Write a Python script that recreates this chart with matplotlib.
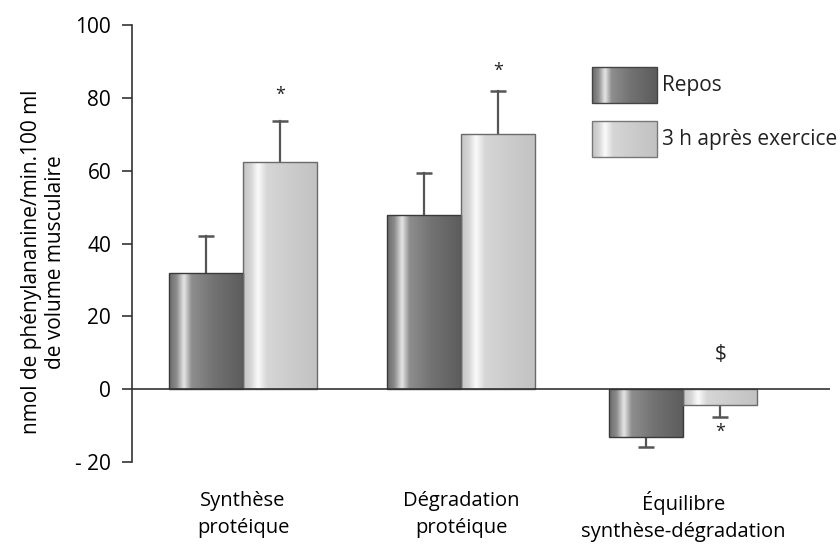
import numpy as np
import matplotlib.pyplot as plt
from matplotlib.colors import LinearSegmentedColormap
from matplotlib.patches import Rectangle

plt.rcParams['font.family'] = ['Open Sans', 'DejaVu Sans']

# Données
categories = ['Synthèse\nprotéique', 'Dégradation\nprotéique', 'Équilibre\nsynthèse-dégradation']
series_noms = ['Repos', '3 h après exercice']
repos = [31.8, 47.8, -13.0]
repos_err = [10.3, 11.6, 2.8]
exercice = [62.3, 70.1, -4.4]
exercice_err = [11.3, 11.8, 3.3]
# annotations : (groupe, valeur, texte)
annotations = [(0, 80.8, '*'), (1, 87.4, '*'), (2, 9.6, '$'), (2, -11.6, '*')]

centres = np.array([1.5, 4.45, 7.45])
largeur = 1.0

# dégradés "cylindriques"
cmap_fonce = LinearSegmentedColormap.from_list('fonce', [
    (0.0, '#6a6a6a'), (0.1, '#8c8c8c'), (0.2, '#e6e6e6'), (0.3, '#8e8e8e'),
    (0.6, '#727272'), (1.0, '#5c5c5c')])
cmap_clair = LinearSegmentedColormap.from_list('clair', [
    (0.0, '#c4c4c4'), (0.1, '#d4d4d4'), (0.2, '#fbfbfb'), (0.32, '#d6d6d6'),
    (0.7, '#cacaca'), (1.0, '#c2c2c2')])
degrade = np.linspace(0, 1, 256).reshape(1, -1)


def remplir(ax, patch, cmap):
    x, y = patch.get_x(), patch.get_y()
    w, h = patch.get_width(), patch.get_height()
    im = ax.imshow(degrade, cmap=cmap, aspect='auto', interpolation='bicubic',
                   extent=[x, x + w, y, y + h], zorder=2)
    im.set_clip_path(patch)


fig = plt.figure(figsize=(8.4, 5.47), dpi=100)
ax = fig.add_axes([132 / 840, 85 / 547, 698 / 840, 437 / 547])

barres1 = ax.bar(centres - largeur / 2, repos, largeur, facecolor='none',
                 edgecolor='#3a3a3a', linewidth=1.0, zorder=3)
barres2 = ax.bar(centres + largeur / 2, exercice, largeur, facecolor='none',
                 edgecolor='#6a6a6a', linewidth=1.0, zorder=3)
for b in barres1:
    remplir(ax, b, cmap_fonce)
for b in barres2:
    remplir(ax, b, cmap_clair)

# barres d'erreur dans un seul sens (vers l'extérieur)
for pos, vals, errs in [(centres - largeur / 2, repos, repos_err),
                        (centres + largeur / 2, exercice, exercice_err)]:
    for xp, v, e in zip(pos, vals, errs):
        bout = v + e if v >= 0 else v - e
        ax.plot([xp, xp], [v, bout], color='#555555', linewidth=1.6, zorder=1)
        ax.plot([xp], [bout], marker='_', markersize=11, markeredgewidth=1.8,
                color='#555555', zorder=1)

for g, y, txt in annotations:
    ax.text(centres[g] + largeur / 2, y, txt, ha='center', va='center',
            fontsize=13 if txt == '*' else 15, color='#222222')

ax.axhline(0, color='#333333', linewidth=1.2, zorder=4)

ax.set_xlim(0, 9.43)
ax.set_ylim(-20, 100)
ax.set_yticks([-20, 0, 20, 40, 60, 80, 100])
ax.set_yticklabels(['- 20', '0', '20', '40', '60', '80', '100'], fontsize=15)
ax.tick_params(axis='y', direction='out', length=7, width=1.2, pad=8,
               color='#333333')
ax.set_xticks(centres)
ax.set_xticklabels(categories, fontsize=14.5, linespacing=1.45)
ax.tick_params(axis='x', length=0, pad=21)
for s in ['top', 'right', 'bottom']:
    ax.spines[s].set_visible(False)
ax.spines['left'].set_color('#333333')
ax.spines['left'].set_linewidth(1.2)

ax.set_ylabel('nmol de phénylananine/min.100 ml\nde volume musculaire',
              fontsize=15, linespacing=1.2)
ax.yaxis.set_label_coords(-0.094, 0.458)

# légende dessinée à la main
legende = [(series_noms[0], cmap_fonce, '#444444', 85),
           (series_noms[1], cmap_clair, '#777777', 139)]
for nom, cmap, bord, ypx in legende:
    x0 = (592 - 132) / 698
    x1 = (657 - 132) / 698
    hauteur = 36 / 437
    yb = (462 - ypx - 18) / 437
    ax.imshow(degrade, cmap=cmap, aspect='auto', interpolation='bicubic',
              extent=[x0, x1, yb, yb + hauteur], transform=ax.transAxes,
              zorder=5, clip_on=False)
    ax.add_patch(Rectangle((x0, yb), x1 - x0, hauteur, transform=ax.transAxes,
                           facecolor='none', edgecolor=bord, linewidth=1.0,
                           zorder=6, clip_on=False))
    ax.text((662 - 132) / 698, yb + hauteur / 2, nom, transform=ax.transAxes,
            ha='left', va='center', fontsize=15, color='#222222')

ax.set_xlim(0, 9.43)
ax.set_ylim(-20, 100)

fig.savefig('out.png', dpi=100)
